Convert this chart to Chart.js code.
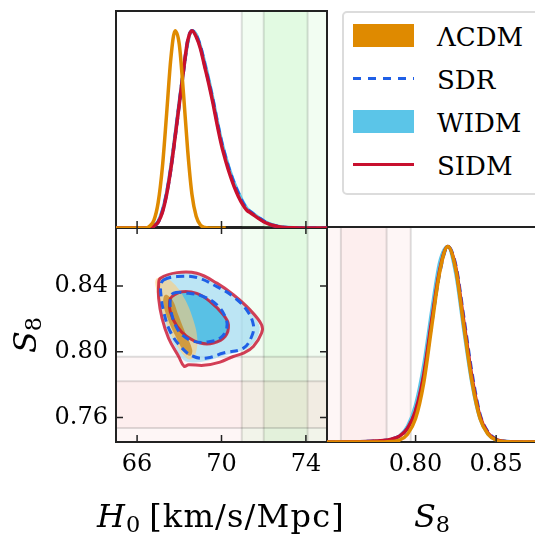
<!DOCTYPE html>
<html>
<head>
<meta charset="utf-8">
<script src="https://cdn.jsdelivr.net/npm/chart.js@4.4.1/dist/chart.umd.min.js"></script>
<style>
  html, body { margin: 0; padding: 0; background: #fff; overflow: hidden; }
  #fig { position: relative; width: 535px; height: 534px; overflow: hidden;
         font-family: "DejaVu Serif", serif; color: #000; }
  #fig canvas { position: absolute; }
  #c2d { left: 0; top: 217px; }
  #cs8 { left: 317px; top: 217px; }
  #ch0 { left: 106px; top: 1px; }
  .sub { font-size: 0.7em; position: relative; top: 0.22em; }
  .xlab { position: absolute; top: 500px; font-size: 32px; line-height: 32px;
          white-space: nowrap; transform: translateX(-50%); }
  #lab-h0 { left: 221px; letter-spacing: 1.2px; }
  #lab-s8 { left: 432px; }
  #lab-s8y { position: absolute; left: -5px; top: 319px; width: 60px; height: 32px;
             font-size: 32px; line-height: 32px; text-align: center; white-space: nowrap;
             transform: rotate(-90deg); }
  #legend { position: absolute; left: 342px; top: 11px; width: 230px; height: 180px;
            border: 2px solid #dcdcdc; border-radius: 5px; background: #fff; }
  .swatch { position: absolute; left: 353px; width: 61px; }
  .ltext { position: absolute; left: 437px; font-size: 26px; line-height: 26px; white-space: nowrap; }
</style>
</head>
<body>
<div id="fig">
  <canvas id="c2d" width="337" height="317"></canvas>
  <canvas id="cs8" width="231" height="317"></canvas>
  <canvas id="ch0" width="231" height="236"></canvas>
  <div id="legend"></div>
  <div class="xlab" id="lab-h0"><i>H</i><span class="sub">0</span>&#8201;[km/s/Mpc]</div>
  <div class="xlab" id="lab-s8"><i>S</i><span class="sub">8</span></div>
  <div id="lab-s8y"><i>S</i><span class="sub">8</span></div>
</div>
<script>
// ---- axes ----
const h0Range = [65, 75];
const s8Range = [0.745, 0.876];
const h0Ticks = [66, 70, 74];
const s8Ticks2d = [0.76, 0.80, 0.84];
const s8Ticks1d = [0.80, 0.85];

// ---- external constraints (1 and 2 sigma) ----
const h0Sigma1 = [72.0, 74.08];
const h0Sigma2 = [70.96, 75.12];
const s8Sigma1 = [0.7536, 0.782];
const s8Sigma2 = [0.740, 0.797];

// ---- 1D marginalised posteriors of H0 (peak normalised) ----
const h0Grid = [65.0, 66.0, 66.4, 66.6, 66.8, 67.0, 67.2, 67.4, 67.6, 67.8, 68.0, 68.2, 68.4,
  68.6, 68.8, 69.0, 69.2, 69.4, 69.6, 69.8, 70.0, 70.2, 70.4, 70.6, 70.8, 71.0, 71.2, 71.4,
  71.6, 71.8, 72.0, 72.2, 72.4, 72.6, 72.8, 73.0, 73.4, 74.0, 75.0];
const lcdmH0 = [0, 0, 0, 0.01, 0.04, 0.13, 0.31, 0.58, 0.86, 1.0, 0.93, 0.68, 0.39,
  0.17, 0.06, 0.015, 0.003, 0, 0, 0, 0, 0, null, null, null, null, null, null,
  null, null, null, null, null, null, null, null, null, null, null];
const sdrH0 = [0, 0, 0, 0.002, 0.01, 0.03, 0.085, 0.175, 0.30, 0.46, 0.63, 0.80, 0.95,
  1.0, 0.975, 0.92, 0.83, 0.74, 0.645, 0.535, 0.435, 0.355, 0.285, 0.225, 0.175, 0.13, 0.098, 0.08,
  0.064, 0.049, 0.035, 0.024, 0.015, 0.01, 0.006, 0.003, 0.001, 0, 0];
const widmH0 = [0, 0, 0, 0.003, 0.012, 0.035, 0.09, 0.18, 0.31, 0.47, 0.64, 0.80, 0.94,
  1.0, 0.98, 0.92, 0.84, 0.75, 0.65, 0.54, 0.44, 0.36, 0.29, 0.23, 0.18, 0.135, 0.10, 0.08,
  0.065, 0.05, 0.036, 0.025, 0.016, 0.01, 0.006, 0.004, 0.0015, 0, 0];
const sidmH0 = [0, 0, 0, 0, 0.01, 0.03, 0.08, 0.17, 0.30, 0.46, 0.63, 0.80, 0.95,
  1.0, 0.97, 0.91, 0.82, 0.73, 0.63, 0.52, 0.42, 0.34, 0.27, 0.21, 0.16, 0.12, 0.09, 0.075,
  0.06, 0.045, 0.032, 0.022, 0.014, 0.009, 0.005, 0.003, 0.001, 0, 0];

// ---- 1D marginalised posteriors of S8 ----
const s8Grid = [0.745, 0.76, 0.77, 0.775, 0.78, 0.785, 0.79, 0.795, 0.80, 0.805, 0.81, 0.815,
  0.82, 0.825, 0.83, 0.835, 0.84, 0.845, 0.85, 0.855, 0.86, 0.865, 0.876];
const lcdmS8 = [0, 0, 0, 0, 0, 0.002, 0.01, 0.04, 0.12, 0.30, 0.59, 0.87,
  1.0, 0.88, 0.59, 0.31, 0.12, 0.04, 0.01, 0.002, 0, 0, 0];
const sdrS8 = [0, 0.001, 0.002, 0.004, 0.007, 0.014, 0.03, 0.07, 0.16, 0.33, 0.61, 0.87,
  1.0, 0.90, 0.63, 0.35, 0.14, 0.05, 0.014, 0.004, 0.001, 0, 0];
const widmS8 = [0, 0.001, 0.002, 0.004, 0.007, 0.013, 0.03, 0.08, 0.19, 0.39, 0.67, 0.92,
  1.0, 0.86, 0.57, 0.30, 0.12, 0.04, 0.011, 0.003, 0.001, 0, 0];
const sidmS8 = [0, 0.001, 0.003, 0.005, 0.008, 0.015, 0.03, 0.07, 0.16, 0.34, 0.62, 0.88,
  1.0, 0.89, 0.61, 0.33, 0.13, 0.045, 0.012, 0.003, 0.001, 0, 0];

// ---- 2D contours in the (H0, S8) plane: [H0, S8] vertices ----
const lcdmOuter = [[66.91, 0.8444], [67.34, 0.8450], [67.81, 0.8407], [68.28, 0.8316],
  [68.66, 0.8195], [68.85, 0.8085], [68.80, 0.8000], [68.61, 0.7957], [68.38, 0.7957],
  [67.95, 0.8024], [67.48, 0.8146], [67.10, 0.8286], [66.91, 0.8377]];
const lcdmInner = [[67.34, 0.8347], [67.67, 0.8316], [67.95, 0.8225], [68.28, 0.8116],
  [68.61, 0.8012], [68.52, 0.7976], [68.23, 0.8000], [67.81, 0.8097], [67.43, 0.8207],
  [67.24, 0.8298]];
const sdrOuter = [[67.26, 0.8438], [67.89, 0.8458], [68.83, 0.8452], [69.78, 0.8397],
  [70.56, 0.8336], [71.19, 0.8255], [71.51, 0.8164], [71.43, 0.8093], [71.04, 0.8022],
  [70.09, 0.7992], [69.31, 0.7962], [68.68, 0.7971], [68.13, 0.8022], [67.57, 0.8123],
  [67.26, 0.8245], [67.13, 0.8346], [67.13, 0.8407]];
const sdrInner = [[67.73, 0.8357], [68.36, 0.8357], [69.15, 0.8336], [69.78, 0.8286],
  [70.17, 0.8215], [70.25, 0.8144], [69.93, 0.8083], [69.31, 0.8059], [68.68, 0.8063],
  [68.13, 0.8103], [67.81, 0.8164], [67.61, 0.8245], [67.57, 0.8316]];
const widmOuter = [[66.98, 0.8390], [67.06, 0.8440], [67.40, 0.8470], [67.89, 0.8478],
  [68.83, 0.8472], [69.78, 0.8412], [70.56, 0.8344], [71.30, 0.8255], [71.78, 0.8164],
  [71.75, 0.8105], [71.35, 0.8030], [70.80, 0.8000], [70.09, 0.7975], [69.31, 0.7945],
  [68.60, 0.7935], [68.20, 0.7950], [67.80, 0.8030], [67.35, 0.8150], [67.08, 0.8290]];
const widmInner = [[67.51, 0.8306], [67.62, 0.8340], [68.12, 0.8368], [68.83, 0.8358],
  [69.46, 0.8308], [70.09, 0.8228], [70.35, 0.8164], [70.18, 0.8090], [69.62, 0.8050],
  [68.99, 0.8050], [68.33, 0.8090], [67.86, 0.8154], [67.54, 0.8245]];
const sidmOuter = [[67.10, 0.8448], [67.89, 0.8482], [68.83, 0.8478], [69.78, 0.8418],
  [70.56, 0.8347], [71.35, 0.8255], [71.90, 0.8164], [71.90, 0.8114], [71.51, 0.8032],
  [71.04, 0.7992], [70.56, 0.7971], [69.93, 0.7937], [69.15, 0.7917], [68.44, 0.7921],
  [68.23, 0.7911], [67.97, 0.7971], [67.49, 0.8083], [67.18, 0.8205], [67.02, 0.8326],
  [67.02, 0.8407]];
const sidmInner = [[67.65, 0.8336], [68.12, 0.8366], [68.83, 0.8356], [69.46, 0.8306],
  [70.09, 0.8225], [70.33, 0.8164], [70.17, 0.8093], [69.62, 0.8053], [68.99, 0.8053],
  [68.36, 0.8093], [67.89, 0.8154], [67.57, 0.8245], [67.54, 0.8306]];

const lcdmColor = '#df8a00';
const sdrColor = '#1f5fe6';
const widmColor = '#5bc5e8';
const sidmColor = '#c8102e';

const tickFont = { family: 'DejaVu Serif', size: 24 };

// shaded bands, frame and inward ticks for each panel
const panelDecor = {
  id: 'panelDecor',
  beforeDatasetsDraw(chart, args, opts) {
    const { ctx, chartArea: a, scales } = chart;
    ctx.save();
    ctx.beginPath();
    ctx.rect(a.left, a.top, a.width, a.height);
    ctx.clip();
    (opts.bands || []).forEach(b => drawBand(ctx, a, scales[b.axis], b));
    ctx.restore();
    ctx.save();
    ctx.strokeStyle = '#222';
    ctx.lineWidth = 2;
    ctx.strokeRect(a.left, a.top, a.width, a.height);
    ctx.restore();
  },
  afterDatasetsDraw(chart, args, opts) {
    const { ctx, chartArea: a, scales } = chart;
    const len = 7;
    ctx.save();
    ctx.strokeStyle = '#222';
    ctx.lineWidth = 1.5;
    ctx.beginPath();
    (opts.xTicks || []).forEach(v => {
      const x = scales.x.getPixelForValue(v);
      ctx.moveTo(x, a.bottom); ctx.lineTo(x, a.bottom - len);
      if (opts.allSides) { ctx.moveTo(x, a.top); ctx.lineTo(x, a.top + len); }
    });
    (opts.yTicks || []).forEach(v => {
      const y = scales.y.getPixelForValue(v);
      ctx.moveTo(a.left, y); ctx.lineTo(a.left + len, y);
      if (opts.allSides) { ctx.moveTo(a.right, y); ctx.lineTo(a.right - len, y); }
    });
    ctx.stroke();
    ctx.restore();
  }
};

function drawBand(ctx, a, scale, band) {
  const horiz = scale.isHorizontal();
  const span = (lo, hi, fill) => {
    const p1 = scale.getPixelForValue(lo), p2 = scale.getPixelForValue(hi);
    ctx.fillStyle = fill;
    if (horiz) ctx.fillRect(Math.min(p1, p2), a.top, Math.abs(p2 - p1), a.height);
    else ctx.fillRect(a.left, Math.min(p1, p2), a.width, Math.abs(p2 - p1));
  };
  span(band.outer[0], band.outer[1], `rgba(${band.rgb},${band.outerAlpha})`);
  span(band.inner[0], band.inner[1], `rgba(${band.rgb},${band.innerAlpha})`);
  ctx.strokeStyle = 'rgba(0,0,0,0.13)';
  ctx.lineWidth = 2;
  [...band.outer, ...band.inner].forEach(v => {
    const p = scale.getPixelForValue(v);
    ctx.beginPath();
    if (horiz) { ctx.moveTo(p, a.top); ctx.lineTo(p, a.bottom); }
    else { ctx.moveTo(a.left, p); ctx.lineTo(a.right, p); }
    ctx.stroke();
  });
}

const h0Band = { axis: 'x', inner: h0Sigma1, outer: h0Sigma2, rgb: '144,238,144', outerAlpha: 0.12, innerAlpha: 0.16 };
const s8BandH = { axis: 'y', inner: s8Sigma1, outer: s8Sigma2, rgb: '240,128,128', outerAlpha: 0.07, innerAlpha: 0.07 };
const s8BandV = Object.assign({}, s8BandH, { axis: 'x' });

function curve(label, xs, ys, color, extra) {
  const data = [];
  xs.forEach((x, i) => { if (ys[i] !== null) data.push({ x, y: ys[i] }); });
  return Object.assign({
    label, data, showLine: true, borderColor: color, borderWidth: 3.5,
    pointRadius: 0, cubicInterpolationMode: 'monotone', fill: false
  }, extra);
}

// wrap a closed contour so every visible segment gets smooth tangents
function loop(pts) {
  const n = pts.length;
  const seq = [pts[n - 1], ...pts, pts[0], pts[1]];
  return { n, data: seq.map(p => ({ x: p[0], y: p[1] })) };
}

function contourLine(label, pts, color, extra) {
  const { n, data } = loop(pts);
  return Object.assign({
    label, data, showLine: true, borderColor: color, borderWidth: 3, pointRadius: 0,
    tension: 0.4, fill: false,
    segment: { borderColor: c => (c.p0DataIndex === 0 || c.p0DataIndex === n + 1) ? 'rgba(0,0,0,0)' : undefined }
  }, extra);
}

function contourFill(label, pts, color) {
  const { data } = loop(pts);
  return {
    label, data, showLine: true, borderWidth: 0, borderColor: 'rgba(0,0,0,0)',
    backgroundColor: color, pointRadius: 0, tension: 0.4, fill: 'shape'
  };
}

// Chart.js paints the lowest "order" last, so number them bottom-up
function stack(sets) {
  return sets.map((s, i) => Object.assign(s, { order: sets.length - i }));
}

function fixedAxis(size, horizontal) {
  return s => {
    if (horizontal) s.height = size; else s.width = size;
    s.paddingLeft = s.paddingRight = s.paddingTop = s.paddingBottom = 0;
  };
}

function baseOptions(padding, scales, decor) {
  return {
    responsive: false, animation: false, events: [], devicePixelRatio: 1,
    layout: { autoPadding: false, padding },
    plugins: { legend: { display: false }, tooltip: { enabled: false }, panelDecor: decor },
    scales
  };
}

const hiddenY = { min: 0, max: 1.1, display: false };

// top left: H0 posterior
new Chart(document.getElementById('ch0'), {
  type: 'scatter',
  data: {
    datasets: stack([
      curve('WIDM', h0Grid, widmH0, widmColor),
      curve('SDR', h0Grid, sdrH0, sdrColor, { borderDash: [8, 5] }),
      curve('SIDM', h0Grid, sidmH0, sidmColor),
      curve('ΛCDM', h0Grid, lcdmH0, lcdmColor)
    ])
  },
  options: baseOptions({ left: 10, top: 10, right: 10, bottom: 9 }, {
    x: { type: 'linear', min: h0Range[0], max: h0Range[1], display: false },
    y: hiddenY
  }, { bands: [h0Band], xTicks: h0Ticks }),
  plugins: [panelDecor]
});

// bottom left: H0 - S8 contours
new Chart(document.getElementById('c2d'), {
  type: 'scatter',
  data: {
    datasets: stack([
      contourFill('WIDM 95%', widmOuter, 'rgba(165,220,240,0.75)'),
      contourFill('WIDM 68%', widmInner, 'rgba(80,190,228,0.92)'),
      contourFill('ΛCDM 95%', lcdmOuter, 'rgba(255,204,120,0.6)'),
      contourFill('ΛCDM 68%', lcdmInner, 'rgba(200,130,20,0.7)'),
      contourLine('SIDM 95%', sidmOuter, 'rgba(200,16,46,0.8)'),
      contourLine('SIDM 68%', sidmInner, 'rgba(200,16,46,0.8)'),
      contourLine('SDR 95%', sdrOuter, sdrColor, { borderDash: [8, 5] }),
      contourLine('SDR 68%', sdrInner, sdrColor, { borderDash: [8, 5] })
    ])
  },
  options: baseOptions({ left: 0, top: 10, right: 10, bottom: 0 }, {
    x: {
      type: 'linear', min: h0Range[0], max: h0Range[1],
      grid: { display: false, drawTicks: false }, border: { display: false },
      ticks: { font: tickFont, color: '#000', padding: 8, autoSkip: false, maxRotation: 0, callback: v => String(v) },
      afterBuildTicks: s => { s.ticks = h0Ticks.map(value => ({ value })); },
      afterFit: fixedAxis(92, true)
    },
    y: {
      min: s8Range[0], max: s8Range[1],
      grid: { display: false, drawTicks: false }, border: { display: false },
      ticks: { font: tickFont, color: '#000', padding: 8, autoSkip: false, callback: v => v.toFixed(2) },
      afterBuildTicks: s => { s.ticks = s8Ticks2d.map(value => ({ value })); },
      afterFit: fixedAxis(116, false)
    }
  }, { bands: [h0Band, s8BandH], xTicks: h0Ticks, yTicks: s8Ticks2d, allSides: true }),
  plugins: [panelDecor]
});

// bottom right: S8 posterior
new Chart(document.getElementById('cs8'), {
  type: 'scatter',
  data: {
    datasets: stack([
      curve('WIDM', s8Grid, widmS8, widmColor),
      curve('SDR', s8Grid, sdrS8, sdrColor, { borderDash: [8, 5] }),
      curve('SIDM', s8Grid, sidmS8, sidmColor),
      curve('ΛCDM', s8Grid, lcdmS8, lcdmColor)
    ])
  },
  options: baseOptions({ left: 10, top: 10, right: 10, bottom: 0 }, {
    x: {
      type: 'linear', min: s8Range[0], max: s8Range[1],
      grid: { display: false, drawTicks: false }, border: { display: false },
      ticks: { font: tickFont, color: '#000', padding: 8, autoSkip: false, maxRotation: 0, callback: v => v.toFixed(2) },
      afterBuildTicks: s => { s.ticks = s8Ticks1d.map(value => ({ value })); },
      afterFit: fixedAxis(92, true)
    },
    y: hiddenY
  }, { bands: [s8BandV], xTicks: s8Ticks1d }),
  plugins: [panelDecor]
});

// legend
const legendItems = [
  { label: 'ΛCDM', kind: 'patch', color: lcdmColor },
  { label: 'SDR', kind: 'dash', color: sdrColor },
  { label: 'WIDM', kind: 'patch', color: widmColor },
  { label: 'SIDM', kind: 'line', color: sidmColor }
];
const fig = document.getElementById('fig');
legendItems.forEach((item, i) => {
  const cy = 35 + i * 43.2;
  const sw = document.createElement('div');
  sw.className = 'swatch';
  if (item.kind === 'patch') {
    sw.style.top = (cy - 11.5) + 'px';
    sw.style.height = '23px';
    sw.style.background = item.color;
  } else {
    sw.style.top = (cy - 1.5) + 'px';
    sw.style.height = '3px';
    sw.style.background = item.kind === 'dash'
      ? `repeating-linear-gradient(to right, ${item.color} 0 8px, transparent 8px 15px)`
      : item.color;
  }
  fig.appendChild(sw);
  const t = document.createElement('div');
  t.className = 'ltext';
  t.style.top = (cy - 11.2) + 'px';
  t.textContent = item.label;
  fig.appendChild(t);
});
</script>
</body>
</html>
